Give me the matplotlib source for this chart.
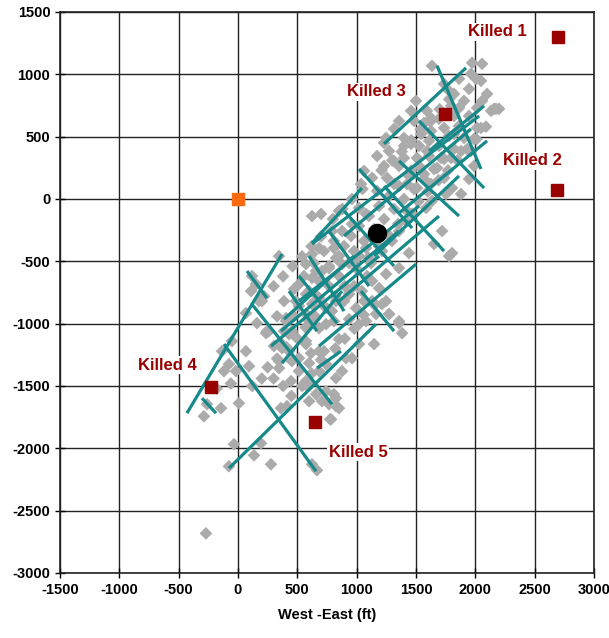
import numpy as np
import matplotlib
matplotlib.use("Agg")
import matplotlib.pyplot as plt

plt.rcParams['font.family'] = ['Liberation Sans', 'DejaVu Sans']
plt.rcParams['axes.unicode_minus'] = False

# microseismic event locations (ft), east / north
events = np.array([
    (1635, 1068), (1737, 923), (1973, 1092), (1964, 1004), (2006, 964), (2048, 948),
    (2099, 843), (2175, 723), (2133, 707), (2057, 787), (2015, 731), (1905, 787),
    (1863, 731), (1821, 843), (1796, 747), (1627, 650), (1568, 610), (1500, 787),
    (1458, 707), (1357, 626), (1315, 562), (1248, 490), (1231, 450), (1399, 490),
    (1458, 442), (1543, 522), (1627, 546), (1737, 570), (1821, 522), (1905, 490),
    (1989, 482), (2015, 570), (1964, 385), (1880, 385), (1796, 329), (1711, 329),
    (1593, 385), (1509, 329), (1399, 329), (1357, 265), (1458, 225), (1568, 200),
    (1678, 249), (1737, 169), (1627, 120), (1509, 88), (1425, 120), (1315, 120),
    (1256, 169), (1172, 64), (1062, 225), (1037, 120), (2200, 723), (2158, 723),
    (2048, 570), (2057, 1084),
    (624, -137), (700, -120), (851, -96), (1020, -72), (1079, -120), (961, -201),
    (877, -257), (792, -257), (809, -393), (683, -393), (624, -442), (573, -522),
    (658, -578), (767, -554), (877, -522), (995, -474), (1079, -393), (1214, -418),
    (1298, -337), (1357, -257), (1416, -177), (1467, -120), (1585, -72), (1635, -16),
    (1753, 40), (1804, 88), (1720, -257), (1652, -361), (1804, -434), (1779, -458),
    (1357, -554), (1248, -602), (1130, -658), (1045, -739), (936, -763), (826, -819),
    (742, -875), (624, -843), (573, -923), (1248, -819), (1163, -923), (1273, -923),
    (1357, -980), (1079, -980), (995, -875), (1189, -715), (1441, -434),
    (346, -458), (118, -618), (152, -683), (110, -739), (177, -819), (67, -915),
    (160, -996), (244, -1060), (405, -980), (455, -1060), (371, -1164), (430, -1221),
    (514, -1277), (346, -1301), (489, -819), (573, -763), (514, -683), (624, -634),
    (708, -578), (826, -474), (599, -980), (683, -1036), (573, -1140), (683, -1221),
    (742, -1325), (599, -1486), (826, -1437), (-51, -1140), (-135, -1221), (-76, -1325),
    (67, -1221), (93, -1341), (-17, -1381), (-118, -1381),
    (-261, -1646), (-287, -1743), (-143, -1678), (8, -1638), (362, -1678), (413, -1662),
    (582, -1502), (658, -1566), (708, -1622), (809, -1566), (826, -1662), (784, -1767),
    (-34, -1967), (194, -1959), (135, -2056), (278, -2128), (-76, -2144), (624, -2128),
    (666, -2176), (-270, -2682),
    (202, -819), (405, -956), (236, -1076), (430, -1084), (371, -1196), (573, -1164),
    (455, -1301), (346, -1357), (599, -1317), (683, -1381), (573, -1461), (742, -1542),
    (826, -1598), (767, -1646), (851, -1678), (910, -1277), (877, -1381), (961, -1277),
    (1020, -1164), (1147, -1164), (1273, -923), (1357, -996), (1383, -1076), (1214, -843),
    (1130, -819), (1020, -1004), (792, -899), (742, -1004), (776, -1767), (683, -795),
    (894, -377), (953, -297), (1020, -217), (1104, -137), (1189, -56), (1273, 24),
    (1357, 104), (1442, 185), (1526, 265), (1610, 345), (1694, 426), (1779, 506),
    (1863, 586), (1947, 666), (851, -458), (767, -538), (683, -658), (599, -739),
    (514, -859), (472, -940), (388, -1060), (303, -1180),
    (978, -418), (1062, -337), (1147, -241), (1231, -161), (1315, -80), (1399, 0),
    (1484, 80), (1568, 161), (1652, 241), (1737, 321), (1821, 402), (809, -337),
    (725, -418), (641, -514), (556, -618), (472, -723), (388, -819), (329, -940),
    (261, -1060), (936, -514), (851, -618), (767, -699), (666, -779), (1020, -458),
    (1122, -514), (1088, -618), (978, -699), (894, -819), (809, -980), (936, -964),
    (1062, -819), (851, -1124), (725, -1221), (615, -1237), (514, -1381), (447, -1461),
    (599, -1622), (1315, 305), (1231, 265), (1172, 345), (1273, 385), (1399, 426),
    (1526, 426), (1610, 466), (1694, 643), (1821, 666), (1484, 626), (1593, 707),
    (1779, 867), (1863, 964), (1947, 883), (1880, 40), (1947, 161), (1989, 265),
    (1000, -560), (1100, -470), (1190, -380), (1270, -290), (1350, -200), (1430, -100),
    (1520, -20), (1600, 60), (1690, 150), (1770, 230), (1850, 310), (1930, 400),
    (2010, 480), (2090, 580), (800, -160), (880, -80), (960, 0), (1050, 80),
    (1130, 170), (1210, 230), (1300, 310), (1380, 380), (1460, 470), (1540, 560),
    (1620, 620), (1700, 720), (1780, 800), (900, -700), (820, -780), (730, -860),
    (650, -940), (570, -1030), (490, -1110), (410, -1190), (330, -1280), (250, -1350),
    (700, -300), (620, -380), (540, -460), (460, -540), (380, -620), (300, -700),
    (220, -780), (1150, -850), (1060, -930), (980, -1040), (900, -1120), (820, -1200),
    (700, -1290), (620, -1400), (540, -1500), (450, -1580), (380, -1500), (300, -1440),
    (200, -1440), (120, -1500), (-60, -1480), (-180, -1520),
])

# event location uncertainty: long axis (along the fracture) and short axis
long_axis = [
    ((1922, 1052), (1231, 442)), ((2032, 666), (624, -361)), ((1964, 562), (894, -297)),
    ((2099, 466), (1357, -112)), ((1863, 185), (1147, -458)), ((1694, -137), (851, -819)),
    ((1526, -56), (514, -819)), ((1357, -257), (362, -1060)), ((1189, -458), (278, -1180)),
    ((978, -458), (388, -964)), ((1501, -522), (683, -1180)), ((1163, -1004), (-76, -2160)),
    ((371, -442), (-430, -1718)), ((1045, 88), (624, -353)), ((877, -739), (371, -1317)),
    ((868, -1221), (666, -1357)), ((2074, 747), (1610, 385)),
]
short_axis = [
    ((1678, 1068), (2048, 241)), ((1526, 626), (2074, 88)), ((1357, 305), (1863, -137)),
    ((1020, 241), (1467, -233)), ((1231, 104), (1737, -418)), ((894, -96), (1315, -538)),
    ((767, -257), (1104, -699)), ((599, -458), (894, -899)), ((514, -618), (835, -996)),
    ((430, -739), (666, -1060)), ((76, -578), (244, -795)), ((110, -835), (792, -1646)),
    ((-118, -1164), (658, -2184)), ((-303, -1598), (-185, -1718)), ((1037, -739), (1315, -1060)),
]

# wells
killed_names = ['Killed 1', 'Killed 2', 'Killed 3', 'Killed 4', 'Killed 5']
killed_x = [2698, 2690, 1745, -228, 649]
killed_y = [1300, 72, 682, -1509, -1790]
label_x = [2183, 2478, 1163, -599, 1012]
label_y = [1341, 305, 859, -1333, -2032]
treat_well = (0, 0)
centroid = (1172, -273)

fig = plt.figure(figsize=(6.09, 6.38), dpi=100)
ax = fig.add_axes([0.0985, 0.1019, 0.8768, 0.8793])

ax.scatter(events[:, 0], events[:, 1], marker='D', s=42, color='#ABABAB',
           edgecolors='none', zorder=2)

for (x0, y0), (x1, y1) in long_axis + short_axis:
    ax.plot([x0, x1], [y0, y1], color='#16898A', lw=2.3, solid_capstyle='butt', zorder=3)

ax.plot(killed_x, killed_y, 's', color='#990000', ms=8.5, zorder=4)
ax.plot(*treat_well, 's', color='#FF6A10', ms=8.5, zorder=4)
ax.plot(*centroid, 'o', color='black', ms=13, zorder=5)

for name, tx, ty in zip(killed_names, label_x, label_y):
    ax.text(tx, ty, name, color='#990000', fontsize=12, fontweight='bold',
            ha='center', va='center', zorder=6,
            bbox=dict(facecolor='white', edgecolor='none', pad=1))

ax.set_xlim(-1500, 3000)
ax.set_ylim(-3000, 1500)
ax.set_xticks(np.arange(-1500, 3001, 500))
ax.set_yticks(np.arange(-3000, 1501, 500))
ax.grid(True, color='#222222', lw=1.0, zorder=0)
ax.set_axisbelow(True)
ax.tick_params(direction='inout', length=7, width=1, labelsize=10.5)
for lab in ax.get_xticklabels() + ax.get_yticklabels():
    lab.set_fontweight('bold')
for sp in ax.spines.values():
    sp.set_color('#222222')
    sp.set_linewidth(1.2)
ax.set_xlabel('West -East (ft)', fontsize=10.5, fontweight='bold', labelpad=8)

fig.savefig('out.png', dpi=100)
